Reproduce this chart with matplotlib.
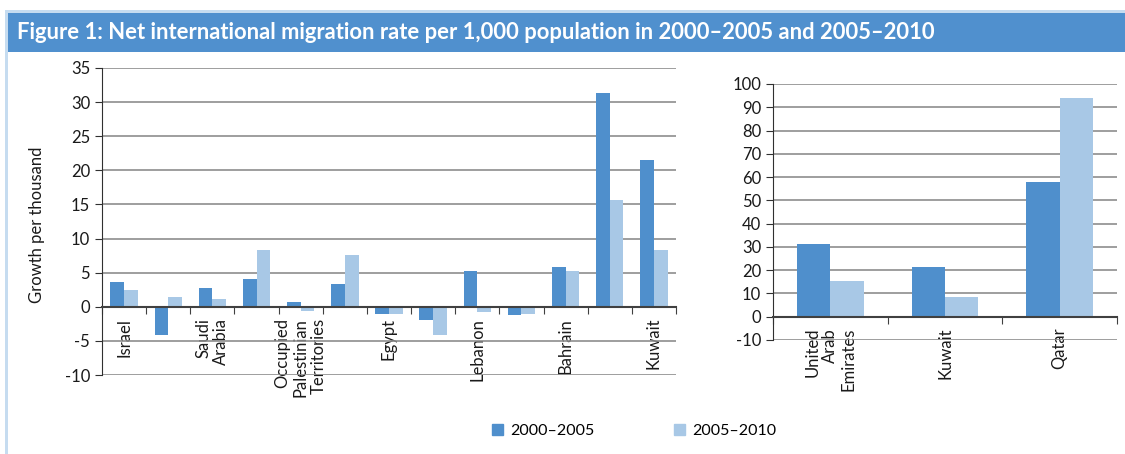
import matplotlib
matplotlib.use('Agg')
import matplotlib.pyplot as plt
from matplotlib.patches import Patch, Rectangle
import numpy as np

plt.rcParams['font.family'] = ['Lato', 'DejaVu Sans']
plt.rcParams['axes.unicode_minus'] = False

# left panel: 13 countries, Excel only printed every other label
left_labels = ['Israel', '', 'Saudi\nArabia', '', 'Occupied\nPalestinian\nTerritories', '',
               'Egypt', '', 'Lebanon', '', 'Bahrain', '', 'Kuwait']
left_2000 = [3.6, -4.1, 2.7, 4.0, 0.7, 3.3, -1.0, -1.9, 5.2, -1.2, 5.8, 31.4, 21.5]
left_2005 = [2.4, 1.4, 1.1, 8.3, -0.6, 7.6, -1.0, -4.1, -0.7, -1.1, 5.2, 15.6, 8.3]

# right panel
right_labels = ['United\nArab\nEmirates', 'Kuwait', 'Qatar']
right_2000 = [31.3, 21.5, 57.9]
right_2005 = [15.5, 8.6, 94.0]

series_names = ['2000\u20132005', '2005\u20132010']
c_dark = '#4f8fcc'
c_light = '#a8c8e6'
grid_c = '#8e8e8e'
txt_c = '#1a1a1a'
fs = 12

fig = plt.figure(figsize=(11.25, 4.54), dpi=100)

# title banner
fig.patches.append(Rectangle((8/1125, 402/454), 1, 39/454, transform=fig.transFigure,
                             facecolor='#5090ce', edgecolor='none', zorder=0))
fig.patches.append(Rectangle((5/1125, 441/454), 1, 3/454, transform=fig.transFigure,
                             facecolor='#c6dcf0', edgecolor='none', zorder=0))
fig.patches.append(Rectangle((5/1125, 0), 3/1125, 444/454, transform=fig.transFigure,
                             facecolor='#c6dcf0', edgecolor='none', zorder=0))
fig.text(17/1125, 421.5/454,
         'Figure 1: Net international migration rate per 1,000 population in 2000\u20132005 and 2005\u20132010',
         color='white', fontsize=15.8, fontweight='bold', va='center', ha='left')


def draw_panel(ax, labels, s1, s2, ylim, step, bw):
    x = np.arange(len(labels))
    ax.bar(x - bw/2, s1, bw, color=c_dark, zorder=3)
    ax.bar(x + bw/2, s2, bw, color=c_light, zorder=3)
    ax.set_xlim(-0.5, len(labels) - 0.5)
    ax.set_ylim(*ylim)
    ax.set_yticks(np.arange(ylim[0], ylim[1] + 1, step))
    ax.yaxis.grid(True, color=grid_c, lw=1.2, zorder=0)
    ax.set_axisbelow(True)
    for s in ['top', 'right']:
        ax.spines[s].set_visible(False)
    ax.spines['left'].set_color('#303030')
    ax.spines['bottom'].set_position(('data', 0))
    ax.spines['bottom'].set_color('#404040')
    ax.spines['bottom'].set_linewidth(1.5)
    ax.spines['bottom'].set_zorder(4)
    # ticks between categories, labels under each category
    ax.set_xticks(np.arange(-0.5, len(labels), 1.0))
    ax.set_xticklabels([])
    ax.set_xticks(x, minor=True)
    ax.set_xticklabels(labels, minor=True, rotation=90, va='top', ha='center',
                       multialignment='right', fontsize=fs, color=txt_c,
                       linespacing=1.15)
    ax.tick_params(axis='x', which='major', direction='out', length=5, color='#404040')
    ax.tick_params(axis='x', which='minor', length=0, pad=8)
    ax.tick_params(axis='y', direction='out', length=5, labelsize=fs, labelcolor=txt_c,
                   color='#303030')


ax1 = fig.add_axes([102/1125, 79/454, 574/1125, 307/454])
draw_panel(ax1, left_labels, left_2000, left_2005, (-10, 35), 5, 0.31)

ax2 = fig.add_axes([773/1125, 114/454, 344/1125, 256/454])
draw_panel(ax2, right_labels, right_2000, right_2005, (-10, 100), 10, 0.29)

fig.text(37/1125, 229/454, 'Growth per thousand', rotation=90, ha='center', va='center',
         fontsize=fs, color=txt_c)

handles = [Patch(color=c_dark), Patch(color=c_light)]
fig.legend(handles, series_names, loc='center', bbox_to_anchor=(634/1125, 23/454), ncol=2,
           frameon=False, fontsize=11.5, handlelength=0.7, handleheight=0.7,
           handletextpad=0.45, columnspacing=5.0)

fig.savefig('out.png', dpi=100)
